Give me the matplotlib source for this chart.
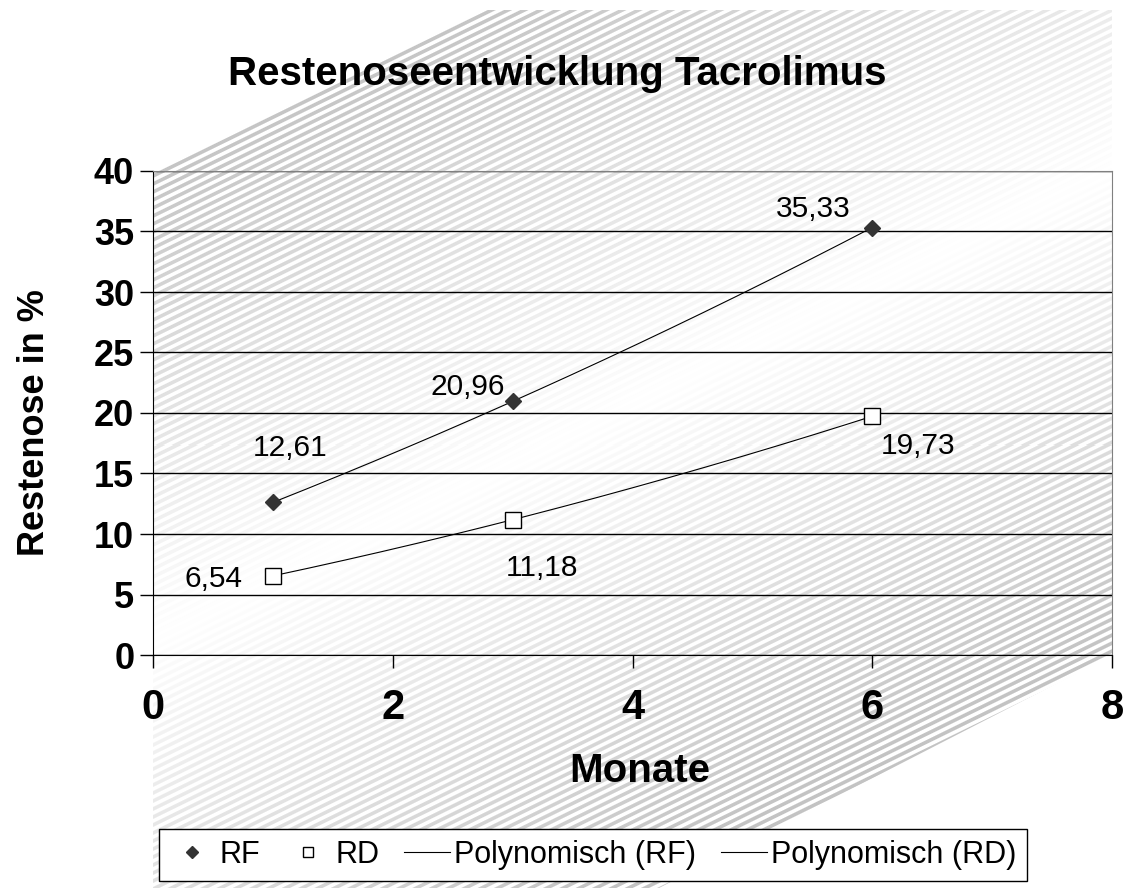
import numpy as np
import matplotlib.pyplot as plt
from matplotlib.patches import Polygon
from matplotlib.lines import Line2D

# Messwerte (Monate nach Implantation)
monate = [1, 3, 6]
rf = [12.61, 20.96, 35.33]
rd = [6.54, 11.18, 19.73]
rf_text = ['12,61', '20,96', '35,33']
rd_text = ['6,54', '11,18', '19,73']

x_ticks = [0, 2, 4, 6, 8]
y_ticks = [0, 5, 10, 15, 20, 25, 30, 35, 40]

schrift = ['Liberation Sans', 'DejaVu Sans']

W, H = 1146, 888
fig = plt.figure(figsize=(W / 100, H / 100), dpi=100)

# Hintergrund: schraffiertes Band mit Verlauf
bg = fig.add_axes([0, 0, 1, 1])
bg.set_xlim(0, W)
bg.set_ylim(H, 0)
bg.axis('off')
px, py = np.meshgrid(np.arange(W) + 0.5, np.arange(H) + 0.5)
s = py + 0.49 * px
d = np.clip(np.abs(s - 715) / 480, 0, 1)
u = np.abs((s / 8.0) % 1.0 - 0.5)
streifen = np.clip((0.25 - u) / 0.14 + 0.5, 0, 1)
wert = (255 - 60 * d * streifen) / 255
img = np.dstack([wert, wert, wert])
im = bg.imshow(img, extent=(0, W, H, 0), interpolation='nearest')
band = Polygon([(153, 172), (486, 10), (1112, 10), (1112, 655), (659, 888), (153, 888)],
               closed=True, fc='none', ec='none', transform=bg.transData)
bg.add_patch(band)
im.set_clip_path(band)

# Diagramm
ax = fig.add_axes([153 / W, (H - 655) / H, (1112 - 153) / W, (655 - 171) / H])
ax.set_facecolor('none')
ax.set_xlim(0, 8)
ax.set_ylim(0, 40)
ax.set_xticks(x_ticks)
ax.set_yticks(y_ticks)
ax.grid(axis='y', color='black', lw=1)
ax.set_axisbelow(True)

for sp in ['top', 'right']:
    ax.spines[sp].set_color('#808080')
for sp in ['left', 'bottom']:
    ax.spines[sp].set_color('black')

ax.tick_params(direction='out', length=9.5, width=1, color='black')
ax.tick_params(axis='x', pad=14)
ax.tick_params(axis='y', pad=4)
for lab in ax.get_xticklabels():
    lab.set_fontsize(30)
    lab.set_fontweight('bold')
    lab.set_family(schrift)
for lab in ax.get_yticklabels():
    lab.set_fontsize(26)
    lab.set_fontweight('bold')
    lab.set_family(schrift)

# Polynomische Trendlinien (2. Ordnung)
xs = np.linspace(1, 6, 200)
c_rf = np.polyfit(monate, rf, 2)
c_rd = np.polyfit(monate, rd, 2)
ax.plot(xs, np.polyval(c_rf, xs), color='black', lw=0.8)
ax.plot(xs, np.polyval(c_rd, xs), color='black', lw=0.8)

ax.plot(monate, rf, ls='none', marker='D', ms=8.5, mfc='#333333', mec='#333333', zorder=5)
ax.plot(monate, rd, ls='none', marker='s', ms=11, mfc='white', mec='black', mew=1, zorder=5)

# Datenbeschriftungen
rf_off = [(17, 46), (-45, 6), (-59, 11)]
rd_off = [(-59, -11), (29, -56), (46, -38)]
for xv, yv, t, o in zip(monate, rf, rf_text, rf_off):
    ax.annotate(t, (xv, yv), xytext=o, textcoords='offset pixels', ha='center',
                va='baseline', fontsize=21.5, family=schrift)
for xv, yv, t, o in zip(monate, rd, rd_text, rd_off):
    ax.annotate(t, (xv, yv), xytext=o, textcoords='offset pixels', ha='center',
                va='baseline', fontsize=21.5, family=schrift)

# Titel und Achsenbeschriftungen
fig.text(557 / W, 1 - 85 / H, 'Restenoseentwicklung Tacrolimus', ha='center', va='baseline',
         fontsize=29, fontweight='bold', family=schrift)
ax.set_xlabel('Monate', fontsize=29, fontweight='bold', family=schrift)
ax.xaxis.set_label_coords(0.508, -0.200)
ax.set_ylabel('Restenose in %', fontsize=26, fontweight='bold', family=schrift)
ax.yaxis.set_label_coords(-0.105, 0.48)

# Legende
handles = [
    Line2D([], [], ls='none', marker='D', ms=6, mfc='#333333', mec='#333333'),
    Line2D([], [], ls='none', marker='s', ms=7.5, mfc='white', mec='black', mew=1),
    Line2D([], [], color='black', lw=0.8),
    Line2D([], [], color='black', lw=0.8),
]
labels = ['RF', 'RD', 'Polynomisch (RF)', 'Polynomisch (RD)']
leg = fig.legend(handles, labels, loc='center', bbox_to_anchor=(593 / W, 1 - 855 / H),
                 ncol=4, prop={'family': schrift, 'size': 22}, frameon=True, fancybox=False,
                 edgecolor='black', facecolor='white', framealpha=1, handlelength=1.5,
                 handletextpad=0.15, columnspacing=0.8, borderpad=0.35)
leg.get_frame().set_linewidth(1)

fig.savefig('out.png', dpi=100)
